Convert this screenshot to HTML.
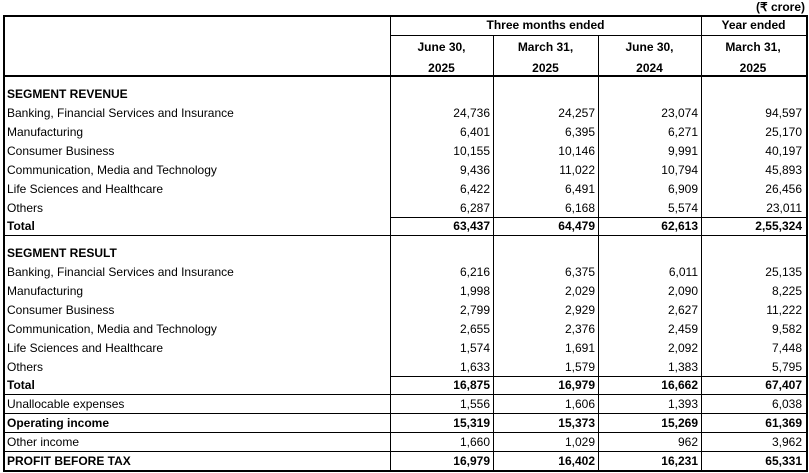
<!DOCTYPE html>
<html><head><meta charset="utf-8">
<style>
body{margin:0;width:809px;height:473px;background:#fff;position:relative;overflow:hidden;font-family:"Liberation Sans",sans-serif;color:#000}
.t{position:absolute;font-size:12px;line-height:14px;white-space:nowrap}
.b{font-weight:bold}
.r{text-align:right}
.c{text-align:center}
.h{position:absolute;background:#000;height:1px}
.v{position:absolute;background:#000;width:1px}
</style></head><body>
<div class="t b" style="right:4px;top:0px">(₹ crore)</div>
<div id="tbl"></div>
<script>
const headers=[["June 30,","2025"],["March 31,","2025"],["June 30,","2024"],["March 31,","2025"]];
const rows=[
["SEGMENT REVENUE",null,"b",94],
["Banking, Financial Services and Insurance",["24,736","24,257","23,074","94,597"],"",113],
["Manufacturing",["6,401","6,395","6,271","25,170"],"",132],
["Consumer Business",["10,155","10,146","9,991","40,197"],"",151],
["Communication, Media and Technology",["9,436","11,022","10,794","45,893"],"",170],
["Life Sciences and Healthcare",["6,422","6,491","6,909","26,456"],"",189],
["Others",["6,287","6,168","5,574","23,011"],"",208],
["Total",["63,437","64,479","62,613","2,55,324"],"b",226],
["SEGMENT RESULT",null,"b",253],
["Banking, Financial Services and Insurance",["6,216","6,375","6,011","25,135"],"",272],
["Manufacturing",["1,998","2,029","2,090","8,225"],"",291],
["Consumer Business",["2,799","2,929","2,627","11,222"],"",310],
["Communication, Media and Technology",["2,655","2,376","2,459","9,582"],"",329],
["Life Sciences and Healthcare",["1,574","1,691","2,092","7,448"],"",348],
["Others",["1,633","1,579","1,383","5,795"],"",367],
["Total",["16,875","16,979","16,662","67,407"],"b",385],
["Unallocable expenses",["1,556","1,606","1,393","6,038"],"",404],
["Operating income",["15,319","15,373","15,269","61,369"],"b",423],
["Other income",["1,660","1,029","962","3,962"],"",442],
["PROFIT BEFORE TAX",["16,979","16,402","16,231","65,331"],"b",461]
];
const colX=[390,493,598,701,805];
const T=document.getElementById('tbl');
function add(cls,style,txt,name){const d=document.createElement('div');d.className=cls;d.style.cssText=style;if(txt!==undefined)d.textContent=txt;


T.appendChild(d);return d;}
add('h','left:3px;top:15px;width:805px;height:2px','', 'table-top-border');
add('h','left:3px;top:470px;width:805px;height:2px','', 'table-bottom-border');
add('v','left:3px;top:15px;height:457px;width:2px','', 'table-left-border');
add('v','left:806px;top:15px;height:457px;width:2px','', 'table-right-border');
add('v','left:390px;top:15px;height:457px','', 'column-divider');
add('v','left:701px;top:15px;height:457px','', 'column-divider');
add('v','left:493px;top:36px;height:436px','', 'column-divider');
add('v','left:598px;top:36px;height:436px','', 'column-divider');
add('h','left:390px;top:35px;width:417px','', 'header-divider');
add('h','left:3px;top:75px;width:805px;height:2px','', 'header-bottom-border');
[217,235,376,394,413,432,451].forEach(y=>add('h','left:390px;top:'+y+'px;width:417px','', 'row-divider'));
[235,394,413,432,451].forEach(y=>add('h','left:3px;top:'+y+'px;width:388px','', 'row-divider-label'));
add('t b c','left:390px;width:311px;top:18px','Three months ended','header-three-months');
add('t b c','left:701px;width:105px;top:18px','Year ended','header-year-ended');
headers.forEach((h,i)=>{const d=add('t b c','left:'+colX[i]+'px;width:'+(colX[i+1]-colX[i])+'px;top:37px;line-height:21px','','column-header');
d.innerHTML=h[0]+'<br>'+h[1];});
rows.forEach(r=>{const top=r[3]-7;
add('t'+(r[2]?' b':''),'left:7px;top:'+top+'px',r[0],'row-label');
if(r[1])r[1].forEach((v,i)=>add('t r'+(r[2]?' b':''),'left:'+colX[i]+'px;width:'+(colX[i+1]-colX[i]-3)+'px;top:'+top+'px',v,'cell-value'));});
</script>
</body></html>
